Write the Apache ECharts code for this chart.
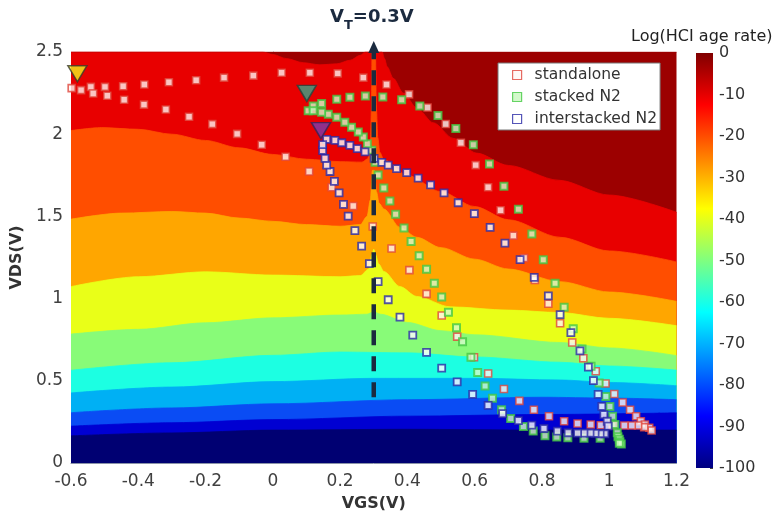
<!DOCTYPE html>
<html>
<head>
<meta charset="utf-8">
<script src="https://cdn.jsdelivr.net/npm/echarts@6/dist/echarts.min.js"></script>
<style>
  html, body { margin: 0; padding: 0; background: #ffffff; }
  #chart { width: 779px; height: 517px; }
</style>
</head>
<body>
<div id="chart"></div>
<script>
// ---- Contour band edges: upper boundary of each Log(HCI age rate) band, [VGS, VDS] ----
const edgeBand0 = [[-0.6, 2.5], [1.2, 2.5]];
const edgeBand10 = [[-0.6, 2.5], [-0.03, 2.5], [0.0, 2.485], [0.04, 2.46], [0.09, 2.435], [0.14, 2.422], [0.19, 2.428], [0.23, 2.45], [0.26, 2.48], [0.275, 2.5], [0.325, 2.5], [0.332, 2.46], [0.34, 2.41], [0.358, 2.34], [0.388, 2.25], [0.428, 2.16], [0.477, 2.07], [0.536, 1.975], [0.606, 1.885], [0.7, 1.81], [0.85, 1.72], [1.0, 1.63], [1.2, 1.525]];
const edgeBand20 = [[-0.6, 2.022], [-0.51, 2.04], [-0.4, 2.03], [-0.3, 2.0], [-0.2, 1.962], [-0.1, 1.917], [0, 1.877], [0.1, 1.848], [0.2, 1.833], [0.265, 1.83], [0.282, 1.85], [0.29, 1.93], [0.293, 2.15], [0.295, 2.5], [0.305, 2.5], [0.308, 2.15], [0.312, 1.98], [0.318, 1.89], [0.33, 1.845], [0.4, 1.75], [0.5, 1.65], [0.6, 1.56], [0.7, 1.48], [0.854, 1.373], [1.0, 1.29], [1.2, 1.223]];
const edgeBand30 = [[-0.6, 1.483], [-0.45, 1.52], [-0.3, 1.53], [-0.2, 1.52], [-0.1, 1.49], [0, 1.47], [0.1, 1.45], [0.2, 1.44], [0.26, 1.45], [0.28, 1.5], [0.29, 1.6], [0.296, 1.78], [0.302, 1.78], [0.308, 1.65], [0.316, 1.58], [0.33, 1.545], [0.378, 1.433], [0.428, 1.373], [0.5, 1.31], [0.6, 1.24], [0.7, 1.18], [0.854, 1.103], [1.0, 1.04], [1.2, 0.983]];
const edgeBand40 = [[-0.6, 1.073], [-0.4, 1.133], [-0.2, 1.163], [0, 1.143], [0.2, 1.133], [0.26, 1.14], [0.285, 1.18], [0.295, 1.27], [0.3, 1.3], [0.305, 1.27], [0.315, 1.21], [0.33, 1.165], [0.378, 1.073], [0.428, 1.013], [0.527, 0.95], [0.7, 0.93], [0.854, 0.915], [1.0, 0.88], [1.2, 0.835]];
const edgeBand50 = [[-0.6, 0.784], [-0.4, 0.813], [-0.2, 0.853], [0, 0.883], [0.2, 0.9], [0.28, 0.905], [0.3, 0.92], [0.32, 0.905], [0.4, 0.855], [0.5, 0.805], [0.6, 0.78], [0.854, 0.733], [1.0, 0.70], [1.2, 0.653]];
const edgeBand60 = [[-0.6, 0.564], [-0.3, 0.61], [0, 0.655], [0.2, 0.675], [0.4, 0.67], [0.6, 0.645], [0.854, 0.613], [1.0, 0.59], [1.2, 0.565]];
const edgeBand70 = [[-0.6, 0.426], [-0.3, 0.462], [0, 0.495], [0.3, 0.515], [0.6, 0.515], [0.854, 0.505], [1.0, 0.49], [1.2, 0.47]];
const edgeBand80 = [[-0.6, 0.306], [-0.3, 0.335], [0, 0.36], [0.4, 0.385], [0.8, 0.4], [1.0, 0.395], [1.2, 0.385]];
const edgeBand90 = [[-0.6, 0.224], [-0.3, 0.245], [0, 0.264], [0.4, 0.285], [0.8, 0.295], [1.2, 0.305]];
const edgeBand100 = [[-0.6, 0.165], [-0.3, 0.183], [0, 0.2], [0.4, 0.205], [0.8, 0.2], [1.2, 0.2]];

// ---- Bias trajectories [VGS, VDS] ----
const standalone = [
  [-0.598, 2.28], [-0.541, 2.288], [-0.499, 2.288], [-0.445, 2.292], [-0.382, 2.302], [-0.309, 2.316],
  [-0.228, 2.328], [-0.145, 2.344], [-0.058, 2.356], [0.026, 2.374], [0.110, 2.374], [0.193, 2.370],
  [0.269, 2.344], [0.338, 2.302], [0.405, 2.242], [0.460, 2.162], [0.514, 2.062], [0.559, 1.948],
  [0.603, 1.812], [0.640, 1.677], [0.677, 1.537], [0.715, 1.383], [0.747, 1.247], [0.779, 1.113],
  [0.819, 0.969], [0.854, 0.850], [0.890, 0.733], [0.923, 0.637], [0.960, 0.558], [0.989, 0.484],
  [1.015, 0.420], [1.040, 0.368], [1.062, 0.324], [1.080, 0.284], [1.094, 0.254], [1.106, 0.234],
  [1.119, 0.214], [1.126, 0.198], [1.104, 0.218], [1.086, 0.228], [1.067, 0.228], [1.045, 0.228],
  [1.010, 0.229], [0.975, 0.230], [0.945, 0.234], [0.906, 0.240], [0.866, 0.254], [0.821, 0.284],
  [0.776, 0.324], [0.733, 0.378], [0.687, 0.450], [0.640, 0.544], [0.598, 0.643], [0.548, 0.769],
  [0.502, 0.897], [0.457, 1.029], [0.406, 1.173], [0.353, 1.305], [0.297, 1.439], [0.239, 1.563],
  [0.175, 1.677], [0.108, 1.773], [0.038, 1.863], [-0.033, 1.936], [-0.106, 2.002], [-0.180, 2.061],
  [-0.249, 2.106], [-0.318, 2.150], [-0.383, 2.180], [-0.442, 2.210], [-0.492, 2.234], [-0.534, 2.248],
  [-0.570, 2.268]
];
const stackedN2 = [
  [0.105, 2.142], [0.120, 2.172], [0.145, 2.186], [0.190, 2.212], [0.229, 2.225], [0.275, 2.232],
  [0.327, 2.227], [0.383, 2.209], [0.437, 2.172], [0.491, 2.113], [0.544, 2.035], [0.596, 1.936],
  [0.644, 1.818], [0.687, 1.683], [0.730, 1.543], [0.770, 1.393], [0.804, 1.237], [0.839, 1.093],
  [0.866, 0.947], [0.893, 0.817], [0.919, 0.694], [0.946, 0.588], [0.970, 0.486], [0.990, 0.404],
  [1.002, 0.344], [1.010, 0.284], [1.017, 0.234], [1.024, 0.184], [1.026, 0.160], [1.030, 0.144],
  [1.032, 0.130], [1.036, 0.115], [1.030, 0.120], [0.973, 0.150], [0.925, 0.150], [0.877, 0.153],
  [0.844, 0.158], [0.809, 0.165], [0.774, 0.194], [0.745, 0.222], [0.707, 0.270], [0.680, 0.324],
  [0.653, 0.394], [0.631, 0.468], [0.609, 0.550], [0.589, 0.643], [0.564, 0.737], [0.546, 0.823],
  [0.522, 0.917], [0.502, 1.009], [0.480, 1.093], [0.457, 1.179], [0.435, 1.261], [0.411, 1.347],
  [0.390, 1.429], [0.365, 1.513], [0.348, 1.593], [0.330, 1.673], [0.313, 1.752], [0.304, 1.829],
  [0.294, 1.902], [0.281, 1.942], [0.269, 1.983], [0.254, 2.013], [0.234, 2.043], [0.214, 2.073],
  [0.190, 2.103], [0.165, 2.122], [0.145, 2.133], [0.120, 2.142]
];
const interstackedN2 = [
  [0.160, 1.969], [0.185, 1.962], [0.205, 1.948], [0.229, 1.932], [0.251, 1.912], [0.274, 1.893],
  [0.301, 1.853], [0.324, 1.829], [0.343, 1.812], [0.368, 1.790], [0.398, 1.766], [0.432, 1.733],
  [0.469, 1.692], [0.509, 1.643], [0.551, 1.583], [0.599, 1.517], [0.646, 1.433], [0.690, 1.337],
  [0.735, 1.237], [0.777, 1.129], [0.819, 1.017], [0.854, 0.903], [0.886, 0.793], [0.913, 0.682],
  [0.938, 0.583], [0.953, 0.501], [0.967, 0.418], [0.978, 0.344], [0.984, 0.294], [0.994, 0.254],
  [0.997, 0.224], [0.987, 0.178], [0.973, 0.178], [0.958, 0.180], [0.943, 0.182], [0.925, 0.182],
  [0.906, 0.182], [0.878, 0.184], [0.846, 0.194], [0.806, 0.210], [0.770, 0.230], [0.730, 0.258],
  [0.683, 0.300], [0.640, 0.350], [0.594, 0.418], [0.548, 0.493], [0.502, 0.577], [0.457, 0.673],
  [0.416, 0.778], [0.378, 0.887], [0.343, 0.993], [0.313, 1.103], [0.287, 1.213], [0.264, 1.319],
  [0.244, 1.413], [0.224, 1.502], [0.210, 1.573], [0.197, 1.643], [0.183, 1.713], [0.170, 1.773],
  [0.160, 1.812], [0.155, 1.853], [0.148, 1.901], [0.148, 1.936]
];
// Starting bias point of each trajectory
const startStandalone = [[-0.581, 2.368]];
const startStacked = [[0.101, 2.248]];
const startInterstacked = [[0.143, 2.022]];

// Threshold voltage marker
const VT = 0.3;
const vtSpan = [0.4, 2.53];

// Axis scales
const vgsTicks = [-0.6, 1.2, 0.2];
const vdsTicks = [0, 2.5, 0.5];
const ageRateTicks = [-100, 0, 10];
const colorbarData = [-100];

// ---- Styles ----
const FONT = 'DejaVu Sans';
const bandColors = ['#9c0000', '#e80000', '#ff4e00', '#ffa600', '#e9ff18', '#88fb78',
                    '#1cffe2', '#00b0f4', '#0a4cf4', '#0000d2', '#000072'];
const bandEdges = [edgeBand0, edgeBand10, edgeBand20, edgeBand30, edgeBand40, edgeBand50,
                   edgeBand60, edgeBand70, edgeBand80, edgeBand90, edgeBand100];

const bandSeries = bandEdges.map((edge, i) => ({
  type: 'line',
  data: edge,
  xAxisIndex: 0,
  yAxisIndex: 0,
  symbol: 'none',
  showSymbol: false,
  smooth: 0.3,
  smoothMonotone: 'x',
  silent: true,
  z: 1,
  lineStyle: { color: bandColors[i], width: 0.8 },
  areaStyle: { color: bandColors[i], opacity: 1, origin: 'start' }
}));

const seriesStyle = {
  standalone: { color: '#fff6f4', borderColor: '#e0463c', borderWidth: 1.6 },
  stacked: { color: '#d6fbcc', borderColor: '#44c844', borderWidth: 2 },
  interstacked: { color: '#ffffff', borderColor: '#2a2aa6', borderWidth: 1.8 }
};

const jet = new echarts.graphic.LinearGradient(0, 0, 0, 1, [
  { offset: 0, color: '#800000' },
  { offset: 0.125, color: '#ff0000' },
  { offset: 0.375, color: '#ffff00' },
  { offset: 0.625, color: '#00ffff' },
  { offset: 0.875, color: '#0000ff' },
  { offset: 1, color: '#000080' }
]);

const chart = echarts.init(document.getElementById('chart'), null, { renderer: 'canvas' });

const option = {
  animation: false,
  backgroundColor: '#ffffff',
  textStyle: { fontFamily: FONT },
  title: [
    {
      text: '{v|V}{s|T}{v|=0.3V}',
      left: 330,
      top: 8,
      padding: 0,
      textStyle: {
        rich: {
          v: { fontFamily: FONT, fontSize: 18, fontWeight: 'bold', color: '#1b2a3f', lineHeight: 20, verticalAlign: 'top' },
          s: { fontFamily: FONT, fontSize: 13, fontWeight: 'bold', color: '#1b2a3f', lineHeight: 14, padding: [11, 0, 0, 0], verticalAlign: 'top' }
        }
      }
    },
    {
      text: 'Log(HCI age rate)',
      left: 631,
      top: 29,
      padding: 0,
      textStyle: { fontFamily: FONT, fontSize: 16, fontWeight: 'normal', color: '#222222' }
    }
  ],
  legend: {
    left: 498,
    top: 63,
    orient: 'vertical',
    backgroundColor: '#ffffff',
    borderColor: '#777777',
    borderWidth: 1,
    borderRadius: 0,
    padding: [4, 3, 3, 14],
    itemGap: 6,
    itemWidth: 25,
    itemHeight: 9,
    icon: 'path://M0,0H10V10H0Z',
    textStyle: { fontFamily: FONT, fontSize: 15.5, color: '#333333' },
    data: [
      { name: 'standalone', itemStyle: { color: '#fff6f4', borderColor: '#e0463c', borderWidth: 1.2 } },
      { name: 'stacked N2', itemStyle: { color: '#c8f7be', borderColor: '#44c844', borderWidth: 1.2 } },
      { name: 'interstacked N2', itemStyle: { color: '#ffffff', borderColor: '#2a2aa6', borderWidth: 1.2 } }
    ],
    selectedMode: false
  },
  grid: [
    { left: 71, right: 102.5, top: 52, bottom: 48, containLabel: false },
    { left: 696, width: 17, top: 53, height: 415, containLabel: false }
  ],
  xAxis: [
    {
      type: 'value',
      gridIndex: 0,
      min: vgsTicks[0],
      max: vgsTicks[1],
      interval: vgsTicks[2],
      name: 'VGS(V)',
      nameLocation: 'middle',
      nameGap: 33,
      nameTextStyle: { fontFamily: FONT, fontSize: 16, fontWeight: 'bold', color: '#333333' },
      axisLine: { show: true, lineStyle: { color: '#8a93a8', width: 1 } },
      axisTick: { show: false },
      splitLine: { show: false },
      axisLabel: { fontFamily: FONT, fontSize: 17, color: '#404040', margin: 10 }
    },
    {
      type: 'category',
      gridIndex: 1,
      data: ['bar'],
      show: false
    }
  ],
  yAxis: [
    {
      type: 'value',
      gridIndex: 0,
      min: vdsTicks[0],
      max: vdsTicks[1],
      interval: vdsTicks[2],
      name: 'VDS(V)',
      nameLocation: 'middle',
      nameGap: 41,
      nameRotate: 90,
      nameTextStyle: { fontFamily: FONT, fontSize: 16, fontWeight: 'bold', color: '#333333' },
      axisLine: { show: true, lineStyle: { color: '#8a93a8', width: 1 } },
      axisTick: { show: false },
      splitLine: { show: false },
      axisLabel: { fontFamily: FONT, fontSize: 17, color: '#404040', margin: 8 }
    },
    {
      type: 'value',
      gridIndex: 1,
      position: 'right',
      min: ageRateTicks[0],
      max: ageRateTicks[1],
      interval: ageRateTicks[2],
      axisLine: { show: false },
      axisTick: { show: true, inside: true, length: 3, lineStyle: { color: '#444444', width: 1 } },
      splitLine: { show: false },
      axisLabel: { fontFamily: FONT, fontSize: 16, color: '#333333', margin: 6 }
    }
  ],
  series: [
    ...bandSeries,
    {
      type: 'bar',
      xAxisIndex: 1,
      yAxisIndex: 1,
      data: colorbarData,
      barWidth: '100%',
      silent: true,
      itemStyle: { color: jet }
    },
    {
      name: 'standalone',
      type: 'scatter',
      data: standalone,
      symbol: 'rect',
      symbolSize: 7,
      itemStyle: seriesStyle.standalone,
      z: 3,
      silent: true
    },
    {
      name: 'stacked N2',
      type: 'scatter',
      data: stackedN2,
      symbol: 'rect',
      symbolSize: 7,
      itemStyle: seriesStyle.stacked,
      z: 3,
      silent: true
    },
    {
      name: 'interstacked N2',
      type: 'scatter',
      data: interstackedN2,
      symbol: 'rect',
      symbolSize: 7,
      itemStyle: seriesStyle.interstacked,
      z: 3,
      silent: true
    },
    {
      type: 'scatter',
      data: startStandalone,
      symbol: 'triangle',
      symbolRotate: 180,
      symbolSize: [19, 16],
      itemStyle: { color: '#f2f21c', borderColor: '#3a3a2a', borderWidth: 1.5 },
      z: 4,
      silent: true
    },
    {
      type: 'scatter',
      data: startStacked,
      symbol: 'triangle',
      symbolRotate: 180,
      symbolSize: [19, 16],
      itemStyle: { color: '#36a68a', borderColor: '#24443c', borderWidth: 1.5 },
      z: 4,
      silent: true
    },
    {
      type: 'scatter',
      data: startInterstacked,
      symbol: 'triangle',
      symbolRotate: 180,
      symbolSize: [19, 16],
      itemStyle: { color: '#7a3cae', borderColor: '#34245a', borderWidth: 1.5 },
      z: 4,
      silent: true
    },
    {
      type: 'line',
      data: [
        { value: [VT, vtSpan[0]], symbol: 'none' },
        { value: [VT, vtSpan[1]], symbol: 'triangle', symbolSize: [11, 12] }
      ],
      showSymbol: true,
      clip: false,
      silent: true,
      z: 6,
      lineStyle: { type: [15, 11], width: 4.5, color: '#1b2a3f' },
      itemStyle: { color: '#1b2a3f' }
    }
  ]
};

chart.setOption(option);
</script>
</body>
</html>
